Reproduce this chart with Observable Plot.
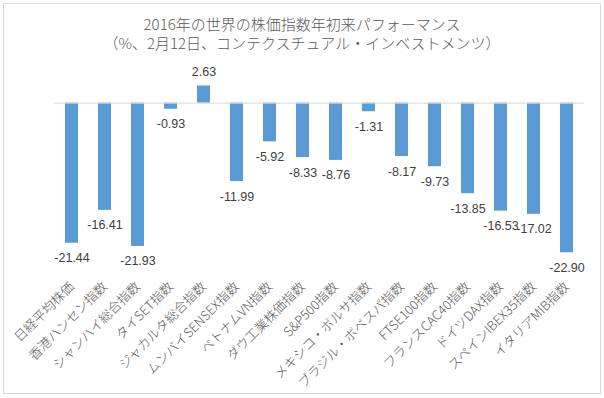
<!DOCTYPE html>
<html>
<head>
<meta charset="utf-8">
<script src="https://cdn.jsdelivr.net/npm/d3@7"></script>
<script src="https://cdn.jsdelivr.net/npm/@observablehq/plot@0.6"></script>
<style>
  body { margin: 0; background: #fff; }
  #wrap { position: relative; width: 604px; height: 398px; overflow: hidden; }
  #frame { position: absolute; left: 3px; top: 3px; width: 596px; height: 389px; border: 1px solid #d9d9d9; box-sizing: content-box; }
  .title { position: absolute; left: 0; width: 604px; text-align: center; font-family: 'Noto Sans CJK JP', sans-serif; font-size: 15px; font-weight: 300; color: #595959; line-height: 18px; white-space: nowrap; }
  #chart { position: absolute; left: 0; top: 0; }
</style>
</head>
<body>
<div id="wrap">
  <div id="frame"></div>
  <div id="chart"></div>
  <div class="title" style="top:15px">2016年の世界の株価指数年初来パフォーマンス</div>
  <div class="title" style="top:34px">（%、2月12日、コンテクスチュアル・インベストメンツ）</div>
</div>
<script>
const indices = ["日経平均株価", "香港ハンセン指数", "シャンハイ総合指数", "タイSET指数", "ジャカルタ総合指数", "ムンバイSENSEX指数", "ベトナムVN指数", "ダウ工業株価指数", "S&P500指数", "メキシコ・ボルサ指数", "ブラジル・ボベスパ指数", "FTSE100指数", "フランスCAC40指数", "ドイツDAX指数", "スペインIBEX35指数", "イタリアMIB指数"];
const returns = [-21.44, -16.41, -21.93, -0.93, 2.63, -11.99, -5.92, -8.33, -8.76, -1.31, -8.17, -9.73, -13.85, -16.53, -17.02, -22.90];

const data = indices.map((name, i) => ({name, value: returns[i]}));
const neg = data.filter(d => d.value < 0);
const pos = data.filter(d => d.value >= 0);

const labelOpts = {
  x: "name", y: "value",
  text: d => d.value.toFixed(2),
  fill: "#404040", fontSize: 12.5,
  fontFamily: "'Liberation Sans', Arial, sans-serif"
};

const chart = Plot.plot({
  width: 604,
  height: 398,
  marginLeft: 54,
  marginRight: 20,
  marginTop: 70,
  marginBottom: 132,
  style: {fontFamily: "'Noto Sans CJK JP', sans-serif", background: "transparent"},
  x: {domain: indices, paddingInner: 0.62, paddingOuter: 0.31, axis: null},
  y: {domain: [-25, 5], axis: null},
  marks: [
    Plot.barY(data, {x: "name", y: "value", fill: "#5b9bd5"}),
    Plot.ruleY([0], {stroke: "#d9d9d9", strokeWidth: 1}),
    Plot.text(neg, {...labelOpts, dy: 15}),
    Plot.text(pos, {...labelOpts, dy: -14}),
    Plot.axisX({tickRotate: -45, tickSize: 0, tickPadding: 18, fontSize: 13, fontWeight: 300, fill: "#595959", label: null})
  ]
});
document.getElementById("chart").appendChild(chart);
</script>
</body>
</html>
